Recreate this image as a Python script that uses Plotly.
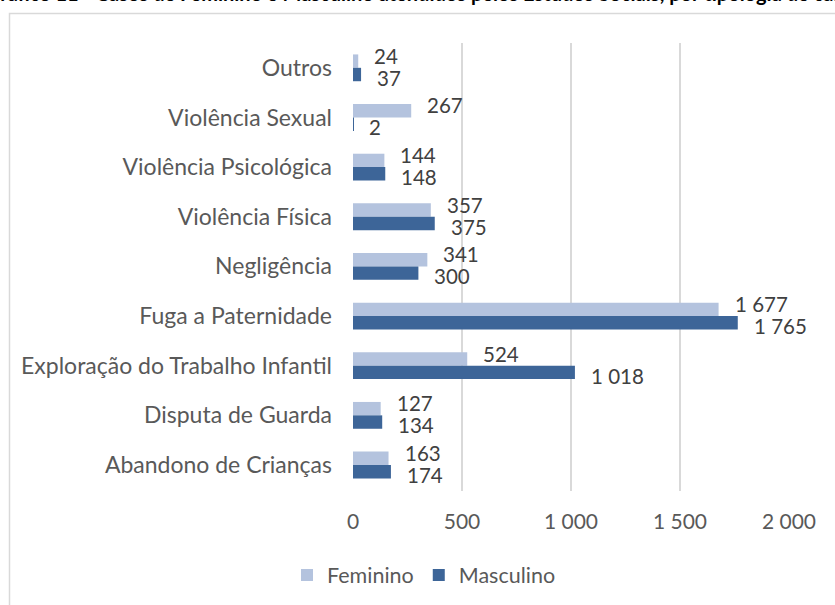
import plotly.graph_objects as go

categories = ["Outros", "Violência Sexual", "Violência Psicológica", "Violência Física",
              "Negligência", "Fuga a Paternidade", "Exploração do Trabalho Infantil",
              "Disputa de Guarda", "Abandono de Crianças"]
feminino = [24, 267, 144, 357, 341, 1677, 524, 127, 163]
masculino = [37, 2, 148, 375, 300, 1765, 1018, 134, 174]
tick_vals = [0, 500, 1000, 1500, 2000]
tick_text = ["0", "500", "1 000", "1 500", "2 000"]
title_text = "Gráfico 11 - Casos de Feminino e Masculino atendidos pelos Estudos Sociais, por tipologia de caso"

FONT = "Lato, Carlito, sans-serif"
C_FEM = "#B4C3DE"
C_MAS = "#3D6598"

W, H = 835, 605
L, R, T, B = 353, 46, 43, 114
pw, ph = W - L - R, H - T - B

def fmt(v):
    return f"{v:,}".replace(",", " ")

fig = go.Figure()
fig.add_trace(go.Bar(y=categories, x=feminino, name="Feminino", orientation="h",
                     marker=dict(color=C_FEM, line=dict(width=0))))
fig.add_trace(go.Bar(y=categories, x=masculino, name="Masculino", orientation="h",
                     marker=dict(color=C_MAS, line=dict(width=0))))

annotations = []
for c, v in zip(categories, feminino):
    annotations.append(dict(x=v, y=c, xref="x", yref="y", text=fmt(v), showarrow=False,
                            xanchor="left", yanchor="middle", xshift=14, yshift=12,
                            font=dict(family=FONT, size=20.5, color="#404040")))
for c, v in zip(categories, masculino):
    annotations.append(dict(x=v, y=c, xref="x", yref="y", text=fmt(v), showarrow=False,
                            xanchor="left", yanchor="middle", xshift=14, yshift=-10,
                            font=dict(family=FONT, size=20.5, color="#404040")))
annotations.append(dict(x=(420 - L) / pw, y=(H - B - 6.5) / ph, xref="paper", yref="paper",
                        text="<b>" + title_text + "</b>", showarrow=False,
                        xanchor="center", yanchor="bottom",
                        font=dict(family=FONT, size=20, color="#000000")))

fig.update_layout(
    width=W, height=H,
    margin=dict(l=L, r=R, t=T, b=B, autoexpand=False),
    paper_bgcolor="white", plot_bgcolor="white",
    barmode="group", bargap=0.46, bargroupgap=0,
    font=dict(family=FONT, size=18, color="#595959"),
    showlegend=True,
    legend=dict(orientation="h", x=(424 - L) / pw, xanchor="center",
                y=(H - B - 575) / ph, yanchor="middle",
                font=dict(family=FONT, size=21.5, color="#595959"),
                itemwidth=30, tracegroupgap=0, bgcolor="rgba(0,0,0,0)"),
    xaxis=dict(range=[0, 2000], tickvals=tick_vals, ticktext=tick_text,
               showgrid=True, gridcolor="#D9D9D9", gridwidth=1.5,
               zeroline=False, showline=False, ticks="", ticklabelstandoff=16,
               tickfont=dict(family=FONT, size=21, color="#595959"), fixedrange=True),
    yaxis=dict(autorange="reversed", showgrid=False, zeroline=False, showline=False,
               ticks="", ticklabelstandoff=20,
               tickfont=dict(family=FONT, size=23, color="#595959"), fixedrange=True),
    annotations=annotations,
    shapes=[dict(type="rect", xref="paper", yref="paper",
                 x0=(9.5 - L) / pw, x1=(W + 20 - L) / pw,
                 y0=(H - B - (H + 20)) / ph, y1=(H - B - 13.5) / ph,
                 line=dict(color="#D9D9D9", width=1.5), fillcolor="rgba(0,0,0,0)", layer="below")],
)

fig.write_html("out.html", config={"displayModeBar": False},
               post_script="document.body.style.margin='0';document.body.style.overflow='hidden';")
